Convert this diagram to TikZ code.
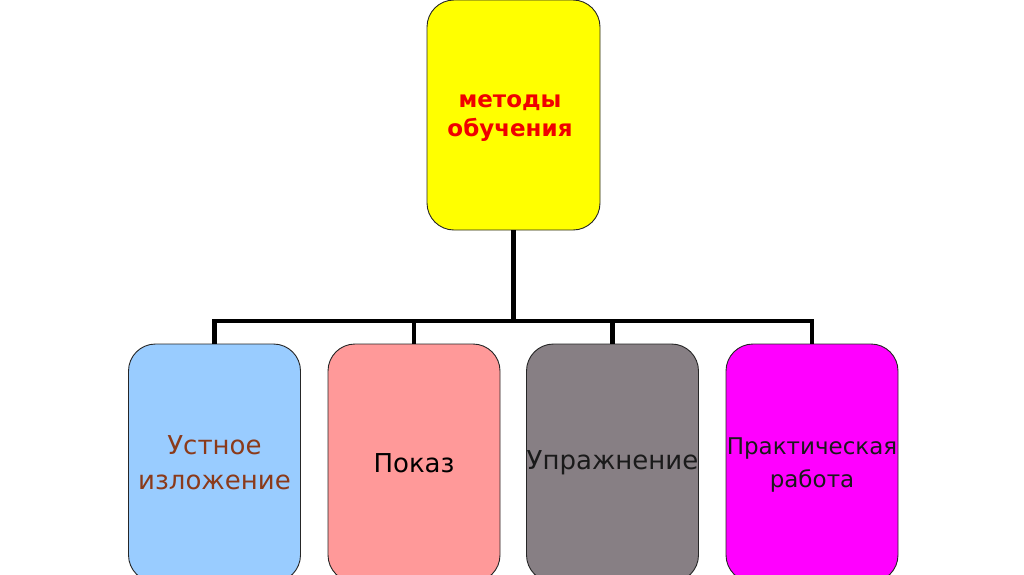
\documentclass[tikz,border=0pt]{standalone}
\usepackage{fontspec}
\setmainfont{DejaVu Sans}
\definecolor{topyellow}{HTML}{FFFF00}
\definecolor{topred}{HTML}{F00000}
\definecolor{bblue}{HTML}{99CCFF}
\definecolor{bpink}{HTML}{FF9999}
\definecolor{bgrey}{HTML}{877F84}
\definecolor{bmagenta}{HTML}{FF00FF}
\definecolor{tbrown}{HTML}{8B3A1A}
\definecolor{tdark}{HTML}{1A1A1A}
\begin{document}
\begin{tikzpicture}[x=1pt,y=-1pt,
  box/.style={draw=black!85,line width=0.9pt,rounded corners=27pt,inner sep=0pt,
    minimum width=172pt,minimum height=238pt},
  topbox/.style={box,fill=topyellow,minimum width=173pt,minimum height=230pt},
  btext/.style={align=center,font=\fontsize{26}{35}\selectfont,inner sep=0pt},
  ttext/.style={align=center,font=\bfseries\fontsize{23}{29}\selectfont,text=topred,inner sep=0pt},
  link/.style={line width=4.5pt,black}]
\useasboundingbox (0,0) rectangle (1024,574);
\clip (0,0) rectangle (1024,574);
\fill[white] (0,0) rectangle (1024,574);
\node[topbox] (top) at (513.5,115) {};
\node[ttext] (toptxt) at (510,118) {методы\\обучения};
\node[box,fill=bblue] (b1) at (214.5,463) {};
\node[box,fill=bpink] (b2) at (414,463) {};
\node[box,fill=bgrey] (b3) at (612.5,463) {};
\node[box,fill=bmagenta] (b4) at (812,463) {};
\node[btext,text=tbrown] (t1) at (b1) {Устное\\изложение};
\node[btext,text=black] (t2) at (b2) {Показ};
\node[btext,text=tdark] (t3) at (b3) {Упражнение};
\node[btext,text=tdark,font=\fontsize{23}{33}\selectfont] (t4) at ([yshift=-2pt]b4.center) {Практическая\\работа};
\coordinate (bus) at (513,321);
\draw[link] (top.south) -- (top.south |- bus);
\draw[link,line join=miter] (b1.north) -- (b1.north |- bus) -- (b4.north |- bus) -- (b4.north);
\draw[link] (b2.north) -- (b2.north |- bus);
\draw[link] (b3.north) -- (b3.north |- bus);
\end{tikzpicture}
\end{document}
